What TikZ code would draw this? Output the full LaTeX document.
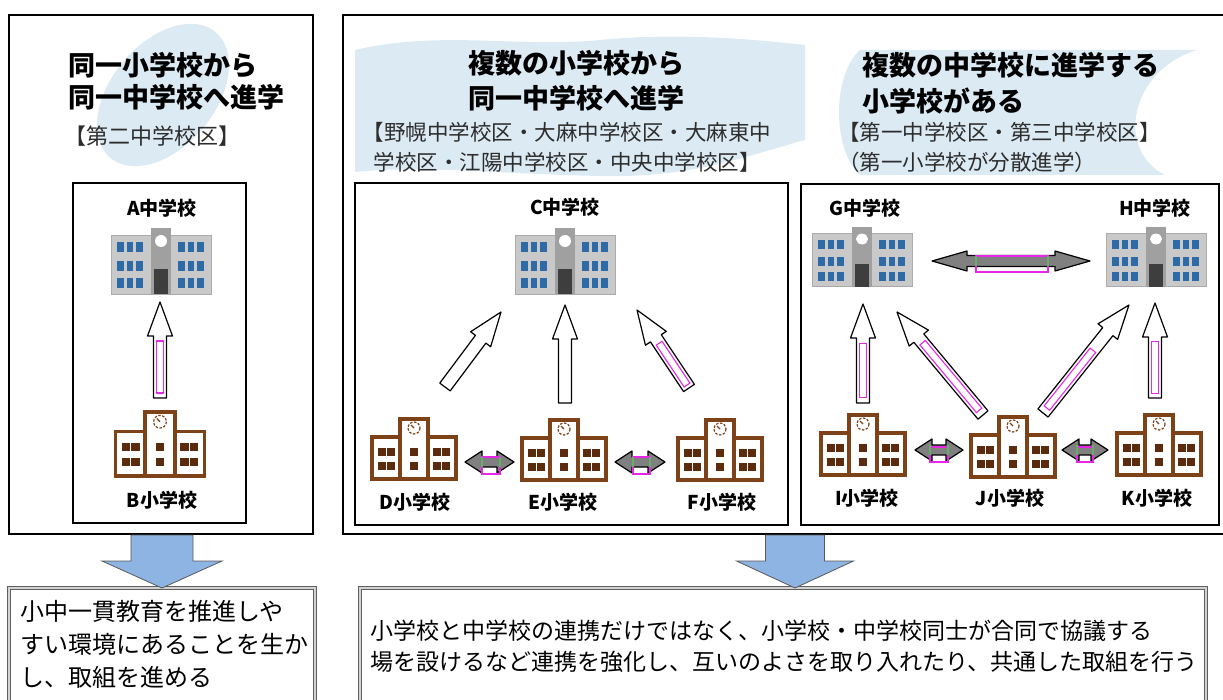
\documentclass[tikz,border=0pt]{standalone}
\usepackage{fontspec}
\setmainfont{Noto Sans CJK JP}
\usetikzlibrary{positioning,calc}
\usepackage{xcolor}
\definecolor{bubble}{RGB}{219,234,243}
\definecolor{wall}{RGB}{201,201,201}
\definecolor{towergray}{RGB}{160,160,160}
\definecolor{doorgray}{RGB}{62,62,62}
\definecolor{winblue}{RGB}{46,106,166}
\definecolor{brick}{RGB}{125,66,24}
\definecolor{brickdark}{RGB}{92,42,12}
\definecolor{pinkline}{RGB}{230,40,230}
\definecolor{greenline}{RGB}{100,175,100}
\definecolor{downblue}{RGB}{141,180,226}
\definecolor{subgray}{RGB}{45,45,45}

% school buildings
\tikzset{
chugaku/.pic={
  \fill[wall] (-50,-26) rectangle (50,33);
  \draw[wall!85!black, line width=0.6pt] (-50,-26) rectangle (50,33);
  \fill[towergray] (-10,-33) rectangle (10,33);
  \fill[white] (0,-20) circle (6);
  \fill[doorgray] (-7,8) rectangle (7,33);
  \foreach \x in {-44,-34.5,-25,17,26.5,36}
    \foreach \y in {-19,0,17}
      \fill[winblue] (\x,\y) rectangle ++(6.5,10);
},
shogaku/.pic={
  \draw[brick, line width=3.5pt, fill=white] (-42,30) -- (-42,-12) -- (-14,-12) -- (-14,-30) -- (14,-30) -- (14,-12) -- (42,-12) -- (42,30) -- cycle;
  \draw[brick, line width=3.5pt] (-14,-12) -- (-14,30) (14,-12) -- (14,30);
  \draw[brick, line width=1.2pt, dash pattern=on 2.5pt off 1.5pt] (0,-21) circle (6);
  \draw[brick, line width=1.2pt] (0,-21) -- (-3,-24);
  \foreach \x in {-36,-27,-4,19,28}
    \foreach \y in {-1,13}
      \fill[brickdark] (\x,\y) rectangle ++(8,8);
}
}

% block arrow: start, tip, shaft half width, head half width, head length
\newcommand\blockarrow[6][]{%
  \path ($(#3)!#6!(#2)$) coordinate (hb);
  \draw[#1] ($(#2)!#4!90:(#3)$) -- ($(hb)!#4!90:(#3)$) -- ($(hb)!#5!90:(#3)$) -- (#3)
    -- ($(hb)!#5!-90:(#3)$) -- ($(hb)!#4!-90:(#3)$) -- ($(#2)!#4!-90:(#3)$) -- cycle;}
\newcommand\hollowarr[2]{\blockarrow[hollow]{#1}{#2}{6.5pt}{12.5pt}{34pt}}
% pink bar inside the last shaft
\newcommand\pinkbar[3]{%
  \path ($(#1)!#2!(hb)$) coordinate (ms) ($(#1)!#3!(hb)$) coordinate (me);
  \draw[pinkbox] ($(ms)!3.5pt!90:(me)$) -- ($(me)!3.5pt!-90:(ms)$) -- ($(me)!3.5pt!90:(ms)$) -- ($(ms)!3.5pt!-90:(me)$) -- cycle;}
% double arrow: ends, head length, head half width, shaft half width
\newcommand\dbarrow[5]{%
  \path ($(#1)!#3!(#2)$) coordinate (h1) ($(#2)!#3!(#1)$) coordinate (h2);
  \draw[twoway] (#1) -- ($(h1)!#4!90:(#2)$) -- ($(h1)!#5!90:(#2)$) -- ($(h2)!#5!-90:(#1)$) -- ($(h2)!#4!-90:(#1)$) -- (#2)
    -- ($(h2)!#4!90:(#1)$) -- ($(h2)!#5!90:(#1)$) -- ($(h1)!#5!-90:(#2)$) -- ($(h1)!#4!-90:(#2)$) -- cycle;}

\begin{document}
\begin{tikzpicture}
[x=1pt, y=-1pt,
% frames of the three cases
outerbox/.style={draw, line width=2.5pt},
innerbox/.style={draw, line width=1.5pt},
resultbox/.style={draw=gray!75!black, line width=1pt, double=gray!35, double distance=1.5pt},
% texts
title/.style={inner sep=0, font=\fontsize{27}{32}\selectfont\bfseries},
district/.style={inner sep=0, text=subgray, font=\fontsize{21.5}{30}\selectfont},
lbl/.style={inner sep=0, font=\fontsize{19}{20}\selectfont\bfseries},
bodytext/.style={inner sep=0, align=left, font=\fontsize{24}{33}\selectfont},
% arrows
hollow/.style={draw, fill=white, line width=1.2pt, line join=round},
twoway/.style={draw, fill=gray, line width=1.2pt, line join=round},
pinkbox/.style={draw=pinkline, line width=1.1pt},
greenbit/.style={draw=greenline, line width=1.1pt},
bluedown/.style={draw=gray!70!black, fill=downblue, line width=0.8pt}
]
\useasboundingbox (0,0) rectangle (1223,700);

% Draw bubbles
\fill[bubble] plot[domain=0:350, samples=36, smooth cycle] ({163+82*cos(\x)*cos(50)+52*sin(\x)*sin(50)}, {95-82*cos(\x)*sin(50)+52*sin(\x)*cos(50)});
\fill[bubble] (355,50) .. controls (440,30) and (520,48) .. (600,40) .. controls (680,32) and (760,40) .. (805,45) -- (805,140) .. controls (740,158) and (690,178) .. (600,176) .. controls (500,174) and (420,165) .. (355,172) -- cycle;
\fill[bubble] (860,50) -- (1197,50) .. controls (1130,70) and (1115,150) .. (1165,175) -- (860,175) .. controls (832,150) and (832,75) .. (860,50) -- cycle;

% Draw frames
\draw[outerbox] (9,15) rectangle (313,534);
\draw[outerbox] (343,15) rectangle (1240,534);
\draw[innerbox] (73,183) rectangle (246,523);
\draw[innerbox] (355,183) rectangle (788,525);
\draw[innerbox] (801,184) rectangle (1219,525);
\draw[resultbox] (9,588) rectangle (315,712);
\draw[resultbox] (360,588) rectangle (1206,712);

% Draw titles
\node[title, align=left, anchor=north west] (t1) at (68,52) {同一小学校から\\同一中学校へ進学};
\node[district, anchor=north west, font=\fontsize{22}{30}\selectfont] (s1) at (64,126) {【第二中学校区】};
\node[title, align=center, anchor=north, font=\fontsize{27}{35}\selectfont\bfseries] (t2) at (576,50) {複数の小学校から\\同一中学校へ進学};
\node[district, align=center, anchor=north] (s2) at (567,122) {【野幌中学校区・大麻中学校区・大麻東中\\学校区・江陽中学校区・中央中学校区】};
\node[title, align=left, anchor=north west, font=\fontsize{27}{36}\selectfont\bfseries] (t3) at (862,52) {複数の中学校に進学する\\小学校がある};
\node[district, align=left, anchor=north west] (s3) at (838,122) {【第一中学校区・第三中学校区】\\（第一小学校が分散進学）};

% Draw schools
\pic at (161,261) {chugaku};
\pic[scale=1.06] at (160,444) {shogaku};
\pic at (565,261) {chugaku};
\pic at (414,449) {shogaku};
\pic at (564,450) {shogaku};
\pic at (720,450) {shogaku};
\pic[yscale=0.9] at (862,257) {chugaku};
\pic[yscale=0.9] at (1156,257) {chugaku};
\pic at (863,445) {shogaku};
\pic at (1013,447) {shogaku};
\pic at (1159,445) {shogaku};

\node[lbl] (A) at (162,208) {A中学校};
\node[lbl] (B) at (162,500) {B小学校};
\node[lbl] (C) at (565,207) {C中学校};
\node[lbl] (D) at (415,502) {D小学校};
\node[lbl] (E) at (563,502) {E小学校};
\node[lbl] (F) at (722,502) {F小学校};
\node[lbl] (G) at (865,208) {G中学校};
\node[lbl] (H) at (1155,208) {H中学校};
\node[lbl] (I) at (867,498) {I小学校};
\node[lbl] (J) at (1010,498) {J小学校};
\node[lbl] (K) at (1157,498) {K小学校};

% Arrow ends
\coordinate (b2a0) at (160,398); \coordinate (b2a1) at (160,302);
\coordinate (d2c0) at (445,387); \coordinate (d2c1) at (501,312);
\coordinate (e2c0) at (565,403); \coordinate (e2c1) at (565,305);
\coordinate (f2c0) at (689,388); \coordinate (f2c1) at (637,310);
\coordinate (i2g0) at (863,403); \coordinate (i2g1) at (863,304);
\coordinate (j2g0) at (983,415); \coordinate (j2g1) at (897,312);
\coordinate (j2h0) at (1043,413); \coordinate (j2h1) at (1129,305);
\coordinate (k2h0) at (1155,398); \coordinate (k2h1) at (1155,303);
\coordinate (de0) at (465,462); \coordinate (de1) at (514,462);
\coordinate (ef0) at (615,462); \coordinate (ef1) at (665,462);
\coordinate (ij0) at (915,450); \coordinate (ij1) at (963,450);
\coordinate (jk0) at (1062,450); \coordinate (jk1) at (1108,450);
\coordinate (gh0) at (932,261); \coordinate (gh1) at (1090,261);
\coordinate (lft0) at (162,535); \coordinate (lft1) at (162,588);
\coordinate (rgt0) at (795,535); \coordinate (rgt1) at (795,588);

% Draw going up
\hollowarr{b2a0}{b2a1} \pinkbar{b2a0}{0.08}{0.92}
\hollowarr{d2c0}{d2c1}
\hollowarr{e2c0}{e2c1}
\hollowarr{f2c0}{f2c1} \pinkbar{f2c0}{0.06}{0.9}
\hollowarr{i2g0}{i2g1} \pinkbar{i2g0}{0.08}{0.92}
\hollowarr{j2g0}{j2g1} \pinkbar{j2g0}{0.06}{0.94}
\hollowarr{j2h0}{j2h1} \pinkbar{j2h0}{0.06}{0.77}
\hollowarr{k2h0}{k2h1} \pinkbar{k2h0}{0.08}{0.92}

% Draw exchange
\dbarrow{de0}{de1}{17pt}{11pt}{5pt}
\dbarrow{ef0}{ef1}{17pt}{11pt}{5pt}
\dbarrow{ij0}{ij1}{17pt}{11pt}{5pt}
\dbarrow{jk0}{jk1}{17pt}{11pt}{5pt}
\dbarrow{gh0}{gh1}{35pt}{10pt}{5.5pt}
\draw[pinkbox] (482,457) rectangle (500,474) (633,457) rectangle (650,474) (930,447) rectangle (948,462) (1077,447) rectangle (1093,462) (976,256) rectangle (1048,272);
\draw[greenbit] (482,457) -- (482,467) (500,457) -- (500,467) (633,457) -- (633,467) (650,457) -- (650,467)
  (930,445) -- (930,455) (948,445) -- (948,455) (1077,445) -- (1077,455) (1093,445) -- (1093,455) (976,256) -- (976,266) (1048,256) -- (1048,266);

% Draw results
\blockarrow[bluedown]{lft0}{lft1}{31pt}{60pt}{27pt}
\blockarrow[bluedown]{rgt0}{rgt1}{29.5pt}{58.5pt}{27pt}
\node[bodytext, anchor=north west] (r1) at (20,600) {小中一貫教育を推進しや\\すい環境にあることを生か\\し、取組を進める};
\node[bodytext, anchor=north west, font=\fontsize{23}{31}\selectfont] (r2) at (370,620) {小学校と中学校の連携だけではなく、小学校・中学校同士が合同で協議する\\場を設けるなど連携を強化し、互いのよさを取り入れたり、共通した取組を行う};
\end{tikzpicture}
\end{document}
